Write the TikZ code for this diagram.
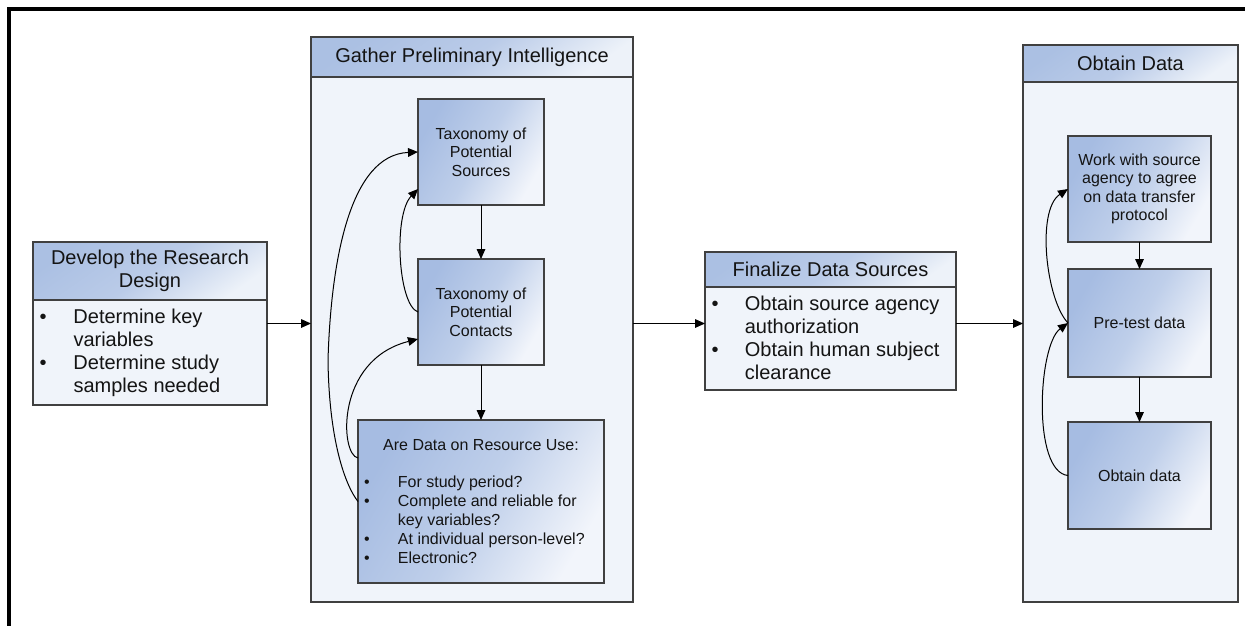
\documentclass[tikz,border=0pt]{standalone}
\usepackage{fontspec}
\setmainfont{Liberation Sans}
\usetikzlibrary{arrows.meta,calc,fit}

\definecolor{edge}{HTML}{404040}
\definecolor{ink}{HTML}{141414}
\definecolor{hdrA}{HTML}{ABC0E3}
\definecolor{hdrM}{HTML}{BACBE8}
\definecolor{hdrB}{HTML}{EDF2F9}
\definecolor{paneC}{HTML}{F0F4FA}
\definecolor{taskA}{HTML}{A6BCE2}
\definecolor{taskM}{HTML}{BFCFEA}
\definecolor{taskB}{HTML}{F2F5FB}

\begin{document}
\begin{tikzpicture}[x=0.75pt, y=-0.75pt,
  base/.style={inner sep=0pt, outer sep=0pt},
  hdr/.style={base, draw=edge, line width=0.9pt,
    top color=hdrA, bottom color=hdrB, middle color=hdrM, shading angle=35},
  pane/.style={base, draw=edge, line width=0.9pt, fill=paneC},
  task/.style={base, draw=edge, line width=0.9pt,
    top color=taskA, bottom color=taskB, middle color=taskM, shading angle=60},
  big/.style={base, text=ink, font=\fontsize{15}{17.25}\selectfont},
  small/.style={base, text=ink, font=\fontsize{12}{13.75}\selectfont},
  smalllist/.style={base, text=ink, font=\fontsize{12}{14.25}\selectfont},
  link/.style={draw=black, line width=0.75pt, -{Triangle[length=7.5pt,width=6.5pt]}},
]
\useasboundingbox[fill=white] (0,0) rectangle (1245,625);

% heavy rules along the top and left edges
\draw[line width=3pt, line join=miter] (9,640) -- (9,9) -- (1260,9);

% ---- Develop the Research Design ----
\node[hdr,  fit={(33,242) (267,300)}] (devhead) {};
\node[pane, fit={(33,300) (267,405)}] (devbody) {};
\node[base, fit=(devhead) (devbody)] (develop) {};
\node[big, align=center] (devtitle) at (devhead) {Develop the Research\\Design};
\node[big, anchor=west] (devlist) at (39.5,353) {%
  \begin{tabular}{@{}p{25.5pt}@{}l@{}}
  \textbullet & Determine key\\
              & variables\\
  \textbullet & Determine study\\
              & samples needed
  \end{tabular}};

% ---- Gather Preliminary Intelligence ----
\node[pane, fit={(311,37) (633,602)}] (gather) {};
\node[hdr,  fit={(311,37) (633,77)}] (gathhead) {};
\node[big] (gathtitle) at (gathhead) {Gather Preliminary Intelligence};

\node[task, fit={(418,99) (544,205)}] (src) {};
\node[small, align=center] (srctext) at (src) {Taxonomy of\\Potential\\Sources};

\node[task, fit={(418,259) (544,365)}] (cont) {};
\node[small, align=center] (conttext) at (cont) {Taxonomy of\\Potential\\Contacts};

\node[task, fit={(358,420) (604,583)}] (data) {};
\node[small] (datatitle) at (481,445) {Are Data on Resource Use:};
\node[smalllist, anchor=west] (datalist) at (364.2,522) {%
  \begin{tabular}{@{}p{25.3pt}@{}l@{}}
  \textbullet & For study period?\\
  \textbullet & Complete and reliable for\\
              & key variables?\\
  \textbullet & At individual person-level?\\
  \textbullet & Electronic?
  \end{tabular}};

% ---- Finalize Data Sources ----
\node[hdr,  fit={(705,252) (956,287)}] (finhead) {};
\node[pane, fit={(705,287) (956,390)}] (finbody) {};
\node[base, fit=(finhead) (finbody)] (final) {};
\node[big] (fintitle) at (finhead) {Finalize Data Sources};
\node[big, anchor=west] (finlist) at (711.5,340) {%
  \begin{tabular}{@{}p{25pt}@{}l@{}}
  \textbullet & Obtain source agency\\
              & authorization\\
  \textbullet & Obtain human subject\\
              & clearance
  \end{tabular}};

% ---- Obtain Data ----
\node[pane, fit={(1023,45) (1238,602)}] (obtain) {};
\node[hdr,  fit={(1023,45) (1238,82)}] (obthead) {};
\node[big] (obttitle) at (obthead) {Obtain Data};

\node[task, fit={(1068,136) (1211,242)}] (work) {};
\node[small, align=center] (worktext) at (work) {Work with source\\agency to agree\\on data transfer\\protocol};

\node[task, fit={(1068,269) (1211,377)}] (pre) {};
\node[small] (pretext) at (pre) {Pre-test data};

\node[task, fit={(1068,422) (1211,529)}] (obt) {};
\node[small] (obttext) at (obt) {Obtain data};

% ---- main flow ----
\draw[link] (develop.east) -- (develop.east -| gather.west);
\draw[link] (develop.east -| gather.east) -- (develop.east -| final.west);
\draw[link] (develop.east -| final.east) -- (develop.east -| obtain.west);

% ---- flow inside Gather Preliminary Intelligence ----
\draw[link] (src) -- (cont);
\draw[link] (cont) -- (data);
\draw[link] (data.west) .. controls (345,485) and (329,440) .. (328,360)
                        .. controls (331,260) and (350,155) .. (src.west);
\draw[link] (cont.west) .. controls (398,305) and (393,215) .. ($(src.west)+(0,37)$);
\draw[link] ($(data.west)+(0,-43.5)$) .. controls (340,455) and (335,360) .. ($(cont.west)+(0,27)$);

% ---- flow inside Obtain Data ----
\draw[link] (work) -- (pre);
\draw[link] (pre) -- (obt);
\draw[link] (pre.west) .. controls (1046,300) and (1036,210) .. (work.west);
\draw[link] (obt.west) .. controls (1032,472) and (1038,345) .. (pre.west);

\end{tikzpicture}
\end{document}
